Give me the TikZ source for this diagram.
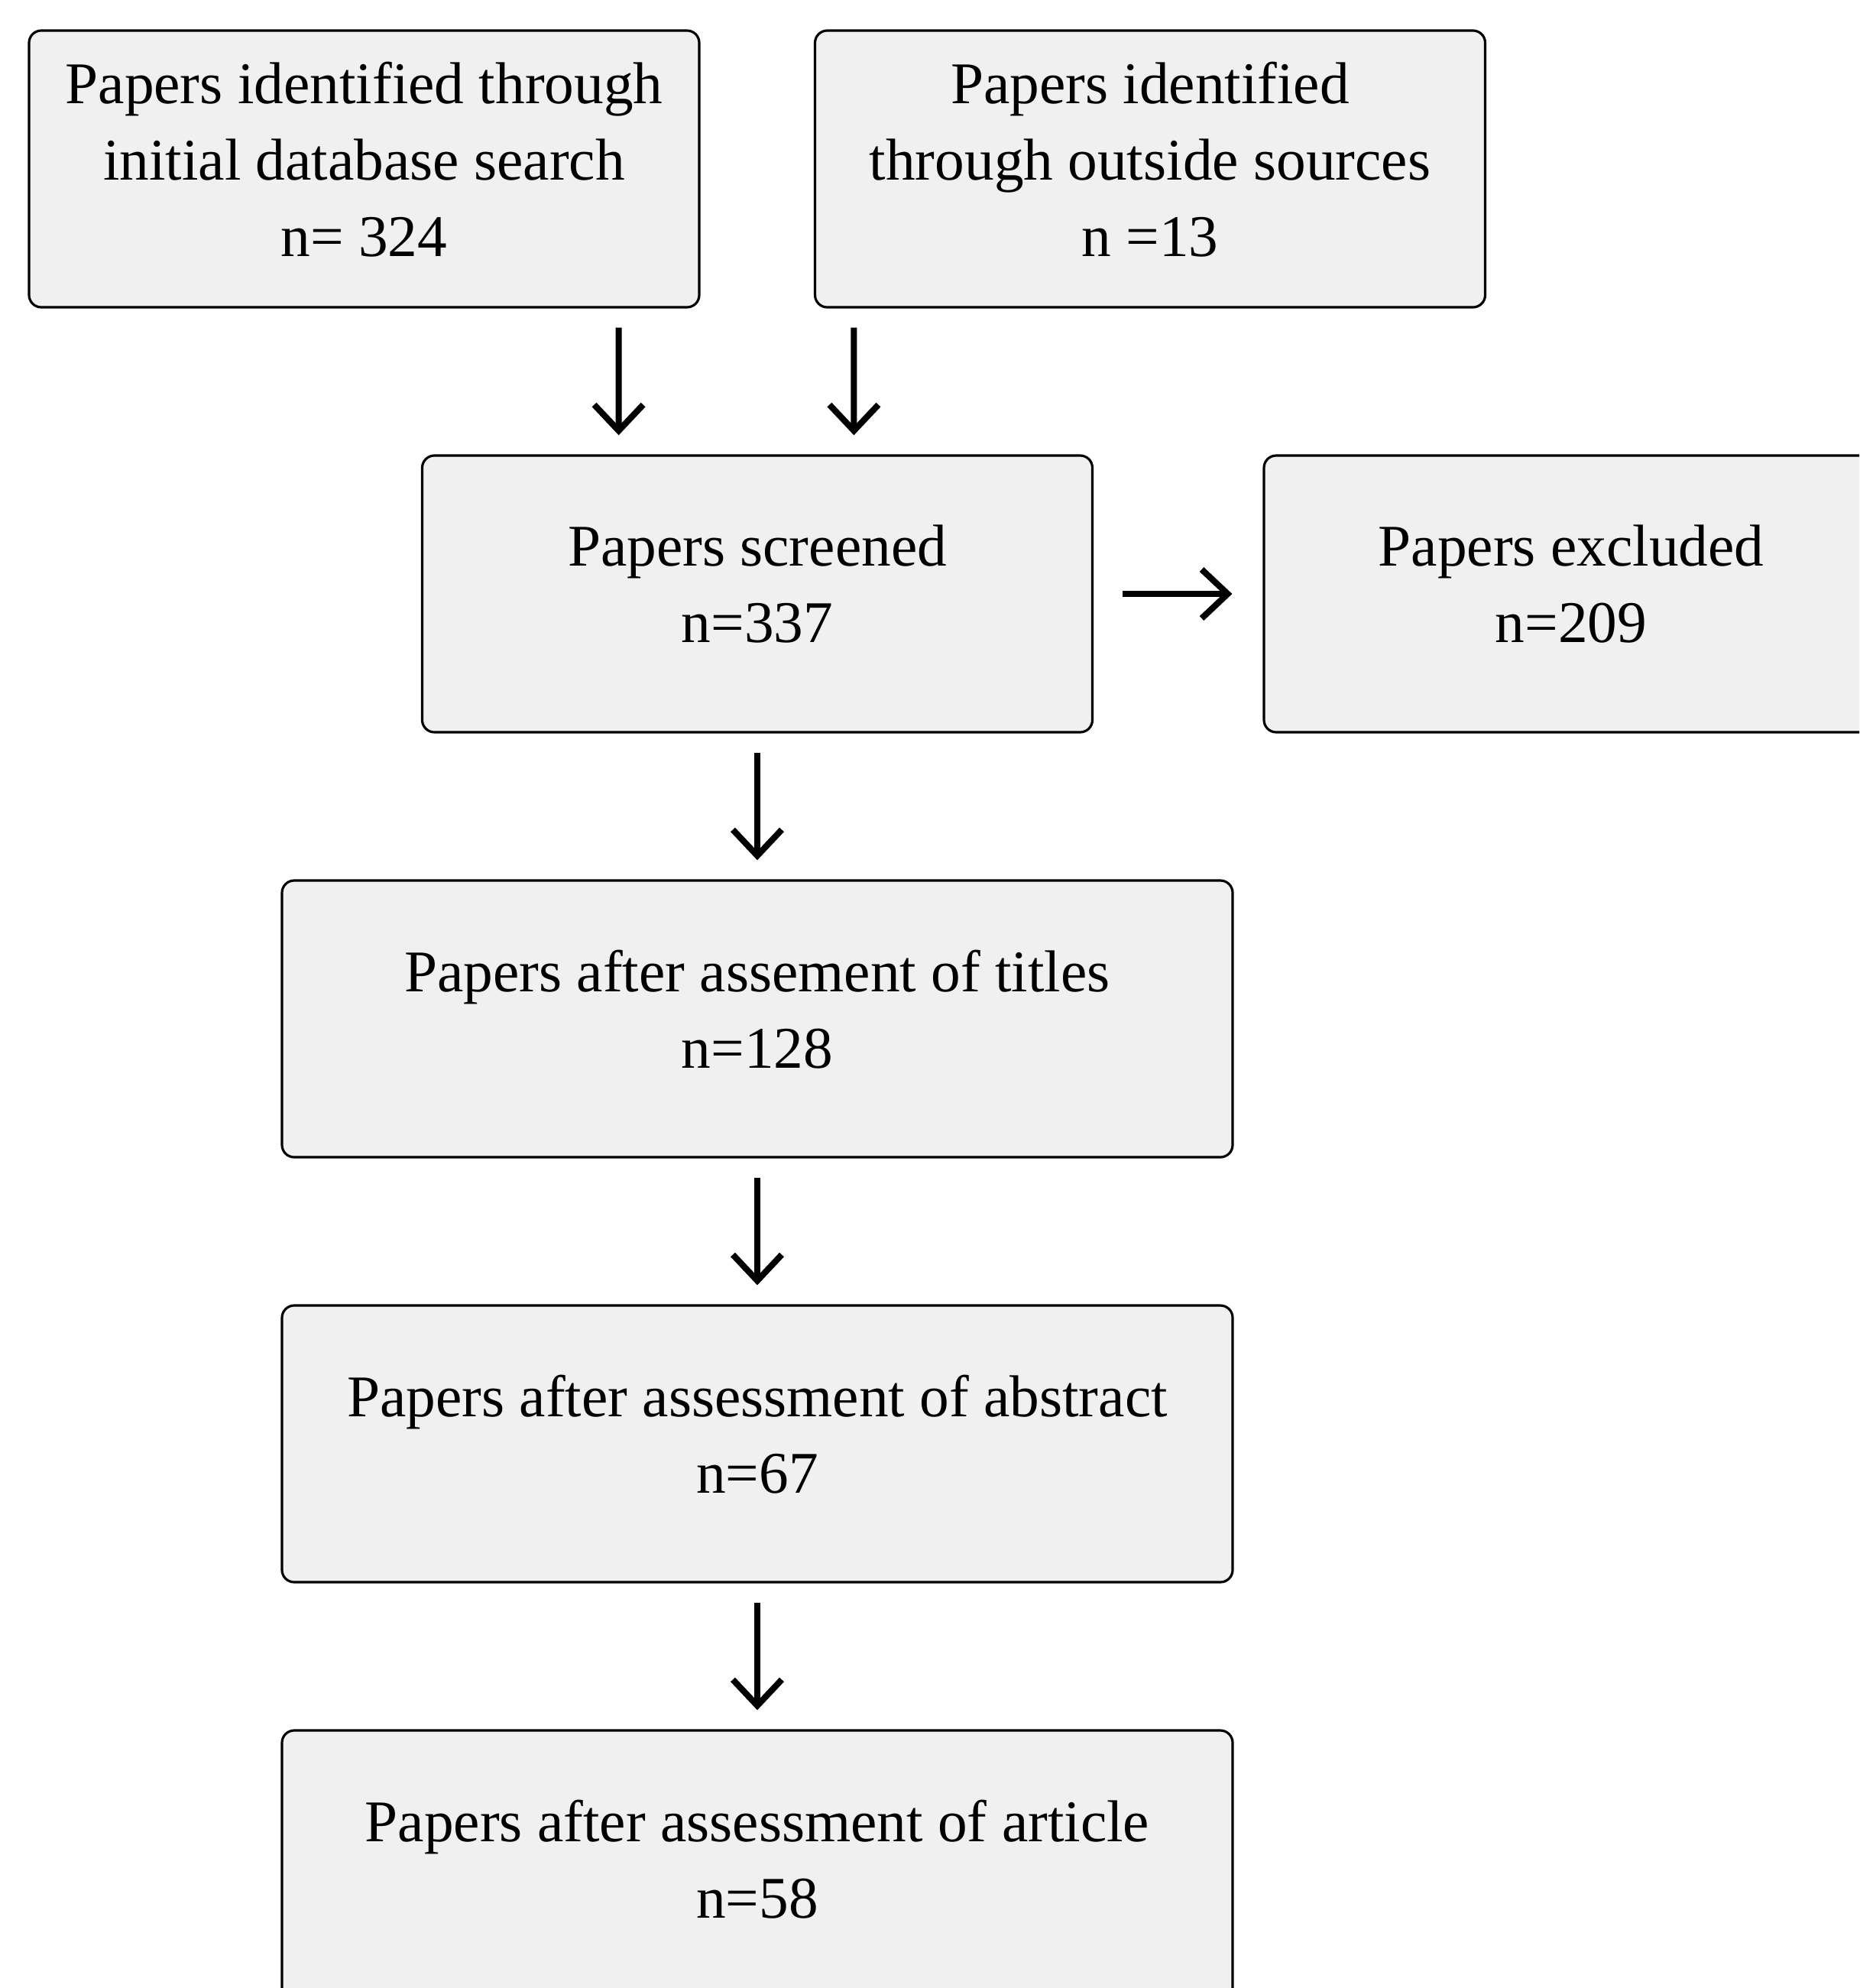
\documentclass[tikz,border=0pt]{standalone}
\usepackage{fontspec}
\setmainfont{Liberation Serif}
\usetikzlibrary{arrows.meta}
\definecolor{boxgray}{HTML}{F0F0F0}

\begin{document}
\begin{tikzpicture}[
  box/.style={rectangle, draw, line width=0.9pt, rounded corners=0.16cm, fill=boxgray,
    minimum height=3.62cm, minimum width=8.77cm, align=center,
    font=\fontsize{22}{28.5}\selectfont,
    execute at end node={\rule[-0.26cm]{0pt}{0.26cm}}},
  flow/.style={-{Straight Barb[length=3.4mm, width=6.4mm]}, line width=2.3pt,
    shorten <=0.25cm, shorten >=0.25cm}
]
  \useasboundingbox (0, 0) rectangle (24.33, -26.01);
  \clip (0, 0) rectangle (24.33, -26.01);
  % Nodes
  \node (DB-SEARCH) [box] at (4.765, -2.21) {Papers identified through\\initial database search\\n= 324};
  \node (OUTSIDE) [box] at (15.05, -2.21) {Papers identified\\through outside sources\\n =13};
  \node (SCREENED) [box] at (9.91, -7.77) {Papers screened\\n=337};
  \node (EXCLUDED) [box, minimum width=8.04cm] at (20.56, -7.77) {Papers excluded\\n=209};
  \node (TITLES) [box, minimum width=12.44cm] at (9.91, -13.33) {Papers after assement of titles\\n=128};
  \node (ABSTRACT) [box, minimum width=12.44cm] at (9.91, -18.89) {Papers after assessment of abstract\\n=67};
  \node (ARTICLE) [box, minimum width=12.44cm] at (9.91, -24.45) {Papers after assessment of article\\n=58};
  % Arrows
  \draw[flow] ([xshift=-1.07cm]DB-SEARCH.south east) -- ([xshift=2.587cm]SCREENED.north west);
  \draw[flow] ([xshift=0.525cm]OUTSIDE.south west) -- ([xshift=5.665cm]SCREENED.north west);
  \draw[flow, shorten <=0.38cm, shorten >=0.4cm] (SCREENED) -- (EXCLUDED);
  \draw[flow] (SCREENED) -- (TITLES);
  \draw[flow] (TITLES) -- (ABSTRACT);
  \draw[flow] (ABSTRACT) -- (ARTICLE);
\end{tikzpicture}
\end{document}
